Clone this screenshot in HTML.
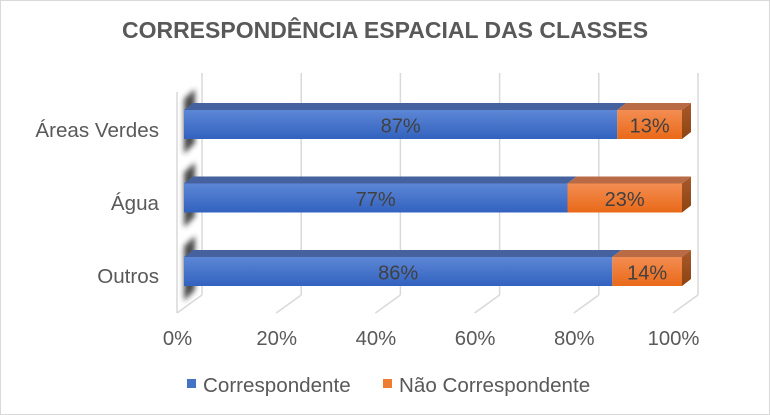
<!DOCTYPE html>
<html>
<head>
<meta charset="utf-8">
<style>
  html,body{margin:0;padding:0;background:#fff;}
  body{width:770px;height:415px;overflow:hidden;}
  svg{display:block;}
  text{font-family:"Liberation Sans", Arial, sans-serif;}
</style>
</head>
<body>
<svg width="770" height="415" viewBox="0 0 770 415" xmlns="http://www.w3.org/2000/svg">
  <defs>
    <linearGradient id="gb" x1="0" y1="0" x2="0" y2="1">
      <stop offset="0" stop-color="#5D87D6"/>
      <stop offset="1" stop-color="#3262BF"/>
    </linearGradient>
    <linearGradient id="go" x1="0" y1="0" x2="0" y2="1">
      <stop offset="0" stop-color="#F38D52"/>
      <stop offset="1" stop-color="#E96918"/>
    </linearGradient>
    <linearGradient id="gr" x1="0" y1="0" x2="0" y2="1">
      <stop offset="0" stop-color="#A9592A"/>
      <stop offset="1" stop-color="#8C4312"/>
    </linearGradient>
    <filter id="blur" x="-50%" y="-50%" width="200%" height="200%">
      <feGaussianBlur stdDeviation="2.6"/>
    </filter>
  </defs>

  <rect x="0.5" y="0.5" width="769" height="414" fill="#fff" stroke="#D9D9D9" stroke-width="1"/>

  <text x="385" y="38" text-anchor="middle" font-size="23" font-weight="bold" fill="#595959">CORRESPONDÊNCIA ESPACIAL DAS CLASSES</text>

  <!-- back wall gridlines -->
  <g stroke="#D9D9D9" stroke-width="1.5" fill="none">
    <line x1="202" y1="73" x2="202" y2="295"/>
    <line x1="301.2" y1="73" x2="301.2" y2="295"/>
    <line x1="400.4" y1="73" x2="400.4" y2="295"/>
    <line x1="499.6" y1="73" x2="499.6" y2="295"/>
    <line x1="598.8" y1="73" x2="598.8" y2="295"/>
    <line x1="698" y1="73" x2="698" y2="295"/>
    <!-- floor lines -->
    <line x1="202" y1="295" x2="177" y2="313"/>
    <line x1="301.2" y1="295" x2="276.2" y2="313"/>
    <line x1="400.4" y1="295" x2="375.4" y2="313"/>
    <line x1="499.6" y1="295" x2="474.6" y2="313"/>
    <line x1="598.8" y1="295" x2="573.8" y2="313"/>
    <line x1="698" y1="295" x2="673" y2="313"/>
    <!-- side wall front edge -->
    <line x1="177" y1="92" x2="177" y2="313"/>
  </g>

  <!-- shadows -->
  <g fill="#2a2a2a" filter="url(#blur)" opacity="0.85">
    <polygon points="184,99 195,89 195,143 184,154"/>
    <polygon points="184,172.5 195,162.5 195,216.5 184,227.5"/>
    <polygon points="184,246 195,236 195,290 184,301"/>
  </g>

  <!-- Bar 1: Áreas Verdes -->
  <g>
    <polygon points="184,110 193,103 626.3,103 617.3,110" fill="#46629E"/>
    <polygon points="617.3,110 626.3,103 691,103 682,110" fill="#B86B45"/>
    <polygon points="682,110 691,103 691,132 682,139" fill="url(#gr)"/>
    <rect x="184" y="110" width="433.3" height="29" fill="url(#gb)"/>
    <rect x="617.3" y="110" width="64.7" height="29" fill="url(#go)"/>
  </g>
  <!-- Bar 2: Água -->
  <g>
    <polygon points="184,183.5 193,176.5 576.5,176.5 567.5,183.5" fill="#46629E"/>
    <polygon points="567.5,183.5 576.5,176.5 691,176.5 682,183.5" fill="#B86B45"/>
    <polygon points="682,183.5 691,176.5 691,205.5 682,212.5" fill="url(#gr)"/>
    <rect x="184" y="183.5" width="383.5" height="29" fill="url(#gb)"/>
    <rect x="567.5" y="183.5" width="114.5" height="29" fill="url(#go)"/>
  </g>
  <!-- Bar 3: Outros -->
  <g>
    <polygon points="184,257 193,250 621.3,250 612.3,257" fill="#46629E"/>
    <polygon points="612.3,257 621.3,250 691,250 682,257" fill="#B86B45"/>
    <polygon points="682,257 691,250 691,279 682,286" fill="url(#gr)"/>
    <rect x="184" y="257" width="428.3" height="29" fill="url(#gb)"/>
    <rect x="612.3" y="257" width="69.7" height="29" fill="url(#go)"/>
  </g>

  <!-- data labels -->
  <g font-size="20" fill="#404040" text-anchor="middle">
    <text x="400.6" y="132.5">87%</text>
    <text x="649.6" y="132.5">13%</text>
    <text x="375.7" y="206">77%</text>
    <text x="624.7" y="206">23%</text>
    <text x="398.1" y="279.5">86%</text>
    <text x="647.1" y="279.5">14%</text>
  </g>

  <!-- category labels -->
  <g font-size="20.6" fill="#595959" text-anchor="end">
    <text x="159" y="137">Áreas Verdes</text>
    <text x="159" y="210">Água</text>
    <text x="159" y="283">Outros</text>
  </g>

  <!-- x tick labels -->
  <g font-size="20.3" fill="#595959" text-anchor="middle">
    <text x="177.5" y="345">0%</text>
    <text x="276.7" y="345">20%</text>
    <text x="375.9" y="345">40%</text>
    <text x="475.1" y="345">60%</text>
    <text x="574.3" y="345">80%</text>
    <text x="673.5" y="345">100%</text>
  </g>

  <!-- legend -->
  <rect x="187" y="379" width="9" height="9" fill="#4472C4"/>
  <text x="203" y="392" font-size="20.6" fill="#595959">Correspondente</text>
  <rect x="383" y="379" width="9" height="9" fill="#ED7D31"/>
  <text x="399" y="392" font-size="20.6" fill="#595959">Não Correspondente</text>
</svg>
</body>
</html>
